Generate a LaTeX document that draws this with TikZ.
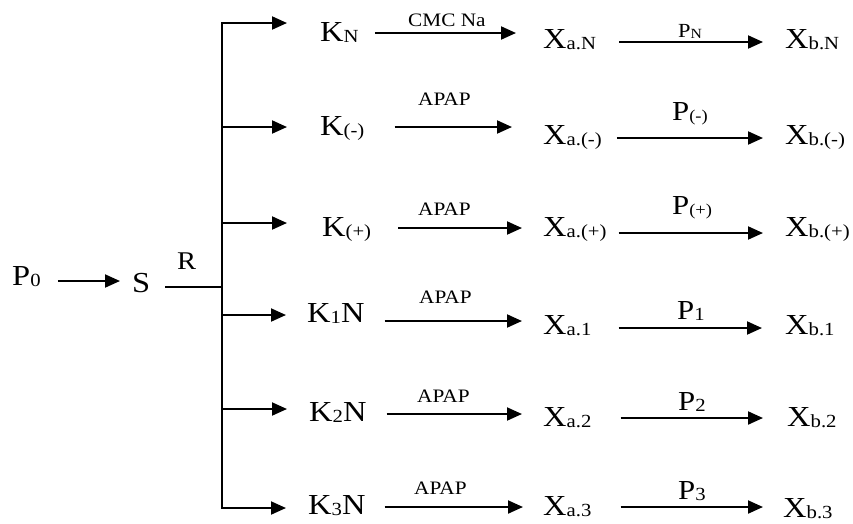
\documentclass[tikz,border=0pt]{standalone}
\usepackage{fontspec}
\setmainfont{Liberation Serif}[FakeStretch=1.12]
\usetikzlibrary{arrows.meta}

% text sizes
\newcommand\mainsz{\fontsize{29}{32}\selectfont}
\newcommand\idxsz{\fontsize{18.5}{20}\selectfont}
\newcommand\lblsz{\fontsize{19}{21}\selectfont}
\newcommand\plsz{\fontsize{27.5}{30}\selectfont}
% word-processor style subscripts
\newcommand\lowidx[1]{\raisebox{-1.8pt}{\idxsz #1}}
\newcommand\lowsmall[1]{\raisebox{-1.5pt}{\fontsize{16.5}{18}\selectfont #1}}
\newcommand\lowtiny[1]{\raisebox{-1.2pt}{\fontsize{14}{15}\selectfont #1}}

\begin{document}
\begin{tikzpicture}[x=1pt,y=-1pt,
  txt/.style={anchor=base west,inner sep=0pt,font=\mainsz},
  lbl/.style={anchor=base west,inner sep=0pt,font=\lblsz},
  plbl/.style={anchor=base west,inner sep=0pt,font=\plsz},
  arr/.style={line width=2pt,-{Triangle[length=15pt,width=13pt]}},
  ln/.style={line width=2pt}]
\useasboundingbox (0,0) rectangle (853,523);

% start of the scheme
\node[txt] (p0) at (12,285) {P\lowidx{0}};
\node[txt] (s) at (132,292) {S};
\node[anchor=base west,inner sep=0pt,font=\fontsize{25.5}{28}\selectfont] (r) at (177,269) {R};

% trunk of the branching
\coordinate (trunkTop) at (222,22);
\coordinate (trunkBot) at (222,509);
\draw[ln] (trunkTop) -- (trunkBot);

\draw[arr,shorten <=17pt,shorten >=12pt] (p0.east |- 0,281) -- (s.west |- 0,281);
\draw[ln,shorten <=15pt] (s.east |- 0,287) -- (trunkTop |- 0,287);

% ---------- row N ----------
\node[txt] (kN) at (320,41) {K\lowidx{N}};
\node[lbl] (lN) at (408,26) {CMC Na};
\node[txt] (xaN) at (543,48) {X\lowidx{a.N}};
\node[anchor=base west,inner sep=0pt,font=\fontsize{20}{22}\selectfont] (pN) at (678,37) {P\lowtiny{N}};
\node[txt] (xbN) at (785,48) {X\lowidx{b.N}};
\draw[arr,shorten >=33pt] (trunkTop |- 0,23) -- (kN.west |- 0,23);
\draw[arr,shorten <=16pt,shorten >=27pt] (kN.east |- 0,33) -- (xaN.west |- 0,33);
\draw[arr,shorten <=23pt,shorten >=22pt] (xaN.east |- 0,42) -- (xbN.west |- 0,42);

% ---------- row (-) ----------
\node[txt] (km) at (320,135) {K\lowidx{(-)}};
\node[lbl] (lm) at (418,105) {APAP};
\node[txt] (xam) at (543,144) {X\lowidx{a.(-)}};
\node[plbl] (pm) at (672,120) {P\lowsmall{(-)}};
\node[txt] (xbm) at (785,144) {X\lowidx{b.(-)}};
\draw[arr,shorten >=33pt] (trunkTop |- 0,127) -- (km.west |- 0,127);
\draw[arr,shorten <=30pt,shorten >=31pt] (km.east |- 0,127) -- (xam.west |- 0,127);
\draw[arr,shorten <=15pt,shorten >=22pt] (xam.east |- 0,138) -- (xbm.west |- 0,138);

% ---------- row (+) ----------
\node[txt] (kp) at (322,236) {K\lowidx{(+)}};
\node[lbl] (lp) at (418,215) {APAP};
\node[txt] (xap) at (543,236) {X\lowidx{a.(+)}};
\node[plbl] (pp) at (672,214) {P\lowsmall{(+)}};
\node[txt] (xbp) at (785,236) {X\lowidx{b.(+)}};
\draw[arr,shorten >=35pt] (trunkTop |- 0,223) -- (kp.west |- 0,223);
\draw[arr,shorten <=27pt,shorten >=21pt] (kp.east |- 0,228) -- (xap.west |- 0,228);
\draw[arr,shorten <=12pt,shorten >=22pt] (xap.east |- 0,233) -- (xbp.west |- 0,233);

% ---------- row 1 ----------
\node[txt] (k1) at (307,322) {K\lowidx{1}N};
\node[lbl] (l1) at (419,303) {APAP};
\node[txt] (xa1) at (543,334) {X\lowidx{a.1}};
\node[plbl] (p1) at (677,319) {P\lowidx{1}};
\node[txt] (xb1) at (785,334) {X\lowidx{b.1}};
\draw[arr,shorten >=21pt] (trunkTop |- 0,315) -- (k1.west |- 0,315);
\draw[arr,shorten <=20pt,shorten >=21pt] (k1.east |- 0,321) -- (xa1.west |- 0,321);
\draw[arr,shorten <=27pt,shorten >=23pt] (xa1.east |- 0,328) -- (xb1.west |- 0,328);

% ---------- row 2 ----------
\node[txt] (k2) at (309,421) {K\lowidx{2}N};
\node[lbl] (l2) at (417,402) {APAP};
\node[txt] (xa2) at (543,426) {X\lowidx{a.2}};
\node[plbl] (p2) at (678,410) {P\lowidx{2}};
\node[txt] (xb2) at (787,426) {X\lowidx{b.2}};
\draw[arr,shorten >=22pt] (trunkTop |- 0,409) -- (k2.west |- 0,409);
\draw[arr,shorten <=20pt,shorten >=21pt] (k2.east |- 0,414) -- (xa2.west |- 0,414);
\draw[arr,shorten <=29pt,shorten >=24pt] (xa2.east |- 0,418) -- (xb2.west |- 0,418);

% ---------- row 3 ----------
\node[txt] (k3) at (308,514) {K\lowidx{3}N};
\node[lbl] (l3) at (414,494) {APAP};
\node[txt] (xa3) at (543,515) {X\lowidx{a.3}};
\node[plbl] (p3) at (678,499) {P\lowidx{3}};
\node[txt] (xb3) at (783,517) {X\lowidx{b.3}};
\draw[arr,shorten >=22pt] (trunkBot |- 0,508) -- (k3.west |- 0,508);
\draw[arr,shorten <=19pt,shorten >=20pt] (k3.east |- 0,507) -- (xa3.west |- 0,507);
\draw[arr,shorten <=29pt,shorten >=20pt] (xa3.east |- 0,507) -- (xb3.west |- 0,507);
\end{tikzpicture}
\end{document}
